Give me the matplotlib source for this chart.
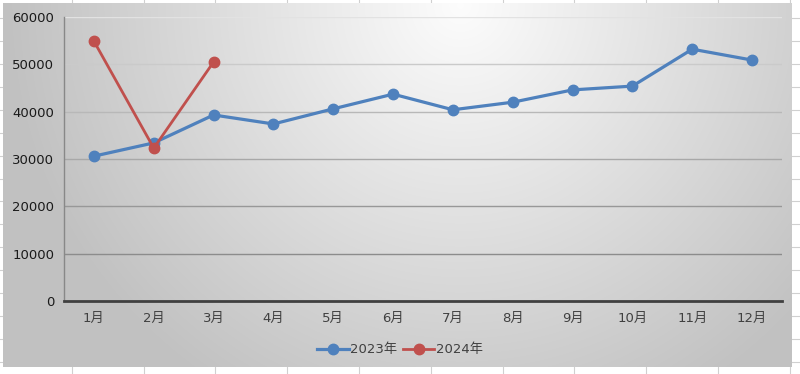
import matplotlib
matplotlib.use('Agg')
import matplotlib.pyplot as plt
import numpy as np

plt.rcParams['font.family'] = ['DejaVu Sans', 'Noto Sans CJK SC']

months = ['1月', '2月', '3月', '4月', '5月', '6月', '7月', '8月', '9月', '10月', '11月', '12月']
sales_2023 = [30600, 33400, 39300, 37400, 40600, 43700, 40400, 42000, 44600, 45400, 53200, 50900]
sales_2024 = [54900, 32300, 50500]
y_ticks = [0, 10000, 20000, 30000, 40000, 50000, 60000]
grid_colors = ['#8c8c8c', '#8c8c8c', '#989898', '#a8a8a8', '#b8b8b8', '#cacaca', '#e2e2e2']

W, H = 800, 374
fig = plt.figure(figsize=(8, 3.74), dpi=100)

# spreadsheet cells behind the chart
sheet = fig.add_axes([0, 0, 1, 1], zorder=-3)
sheet.set_xlim(0, W)
sheet.set_ylim(H, 0)
sheet.axis('off')
for x in np.arange(71.8, W, 71.8):
    sheet.axvline(x, color='#d0d0d0', lw=0.8)
for y in np.arange(18, H, 22.93):
    sheet.axhline(y, color='#d0d0d0', lw=0.8)

# chart area with radial gradient
bg = fig.add_axes([3 / W, (H - 367) / H, 789 / W, 364 / H], zorder=-2)
gx, gy = np.meshgrid(np.arange(3, 792), np.arange(3, 367))
r = np.sqrt(((gx - 460) / 430.0) ** 2 + ((gy - 5) / 430.0) ** 2)
shade = 0.99 - 0.22 * np.clip(r, 0, 1.05)
bg.imshow(np.dstack([shade] * 3), aspect='auto', interpolation='bilinear')
bg.axis('off')

ax = fig.add_axes([64 / W, (H - 301) / H, 718 / W, 284 / H])
ax.patch.set_alpha(0)
x = np.arange(len(months))

for val, c in zip(y_ticks[1:], grid_colors[1:]):
    ax.axhline(val, color=c, lw=1, zorder=1)

ax.plot(x, sales_2023, color='#4f81bd', lw=2.3, marker='o', markersize=7.5, label='2023年', zorder=3)
ax.plot(x[:len(sales_2024)], sales_2024, color='#c0504d', lw=2.0, marker='o', markersize=7.5,
        label='2024年', zorder=4)

ax.set_xlim(-0.5, len(months) - 0.5)
ax.set_ylim(0, 60000)
ax.set_yticks(y_ticks)
ax.set_xticks(x)
ax.set_xticklabels(months)
ax.tick_params(axis='y', length=0, pad=7, labelsize=9.5, labelcolor='#1a1a1a')
ax.tick_params(axis='x', length=0, pad=8, labelsize=9.5, labelcolor='#404040')

for s in ['top', 'right']:
    ax.spines[s].set_visible(False)
ax.spines['left'].set_color('#888888')
ax.spines['left'].set_linewidth(1)
ax.spines['bottom'].set_color('#404040')
ax.spines['bottom'].set_linewidth(2)
ax.spines['bottom'].set_zorder(5)

leg = fig.legend(loc='center', bbox_to_anchor=(0.5, (H - 350) / H), ncol=2, frameon=False,
                 fontsize=9.5, handlelength=2.4, columnspacing=0.4, handletextpad=0.1)
for t in leg.get_texts():
    t.set_color('#404040')

fig.savefig('out.png', dpi=100)
